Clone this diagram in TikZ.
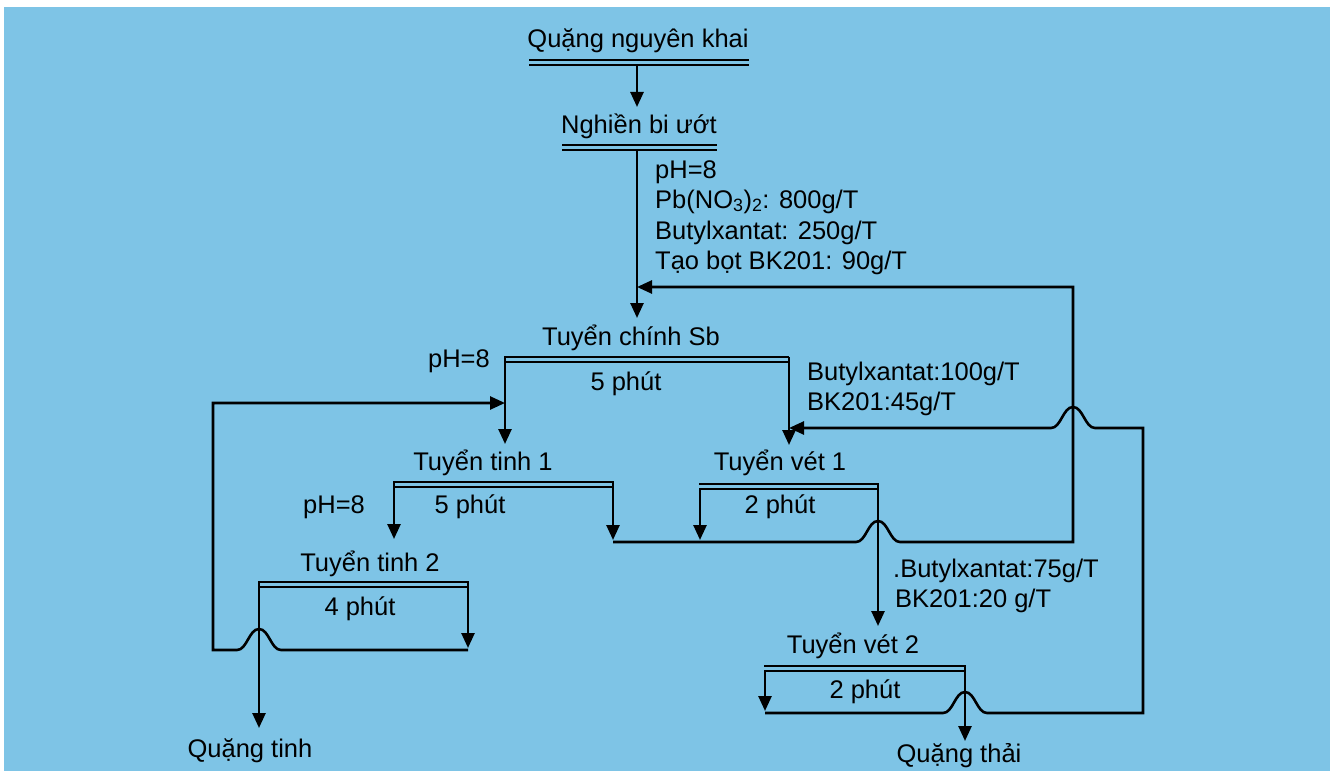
\documentclass[tikz,border=0pt]{standalone}
\usepackage{fontspec}
\setmainfont{Liberation Sans}
\usetikzlibrary{arrows.meta}
\definecolor{bg}{RGB}{126,196,230}
\newcommand{\hmpR}[2]{-- (#1-22,#2) .. controls (#1-12,#2) and (#1-10,#2-21) .. (#1,#2-21) .. controls (#1+10,#2-21) and (#1+12,#2) .. (#1+22,#2)}
\newcommand{\hmpL}[2]{-- (#1+22,#2) .. controls (#1+12,#2) and (#1+10,#2-21) .. (#1,#2-21) .. controls (#1-10,#2-21) and (#1-12,#2) .. (#1-22,#2)}
\begin{document}
\begin{tikzpicture}[x=1pt,y=-1pt,
  line/.style={line width=2.6pt, line join=miter},
  arr/.style={line, -{Triangle[length=15pt,width=13pt]}},
  lbl/.style={inner sep=0pt, font=\fontsize{25.5}{30}\selectfont, anchor=base},
  lblw/.style={lbl, anchor=base west},
  lble/.style={lbl, anchor=base east}]
\useasboundingbox (0,0) rectangle (1330,773);
\fill[white] (0,0) rectangle (1330,773);
\fill[bg] (4,7) rectangle (1330,771);

% ---- texts ----
\node[lbl] (qnk) at (638,48) {Quặng nguyên khai};
\node[lbl] (nbu) at (639,133) {Nghiền bi ướt};
\node[lblw] (r1) at (655,178) {pH=8};
\node[lblw] (r2) at (655,208) {Pb(NO\textsubscript{3})\textsubscript{2}: 800g/T};
\node[lblw] (r3) at (655,239) {Butylxantat: 250g/T};
\node[lblw] (r4) at (655,269) {Tạo bọt BK201: 90g/T};
\node[lbl] (tcs) at (631,345) {Tuyển chính Sb};
\node[lble] (ph1) at (490,367) {pH=8};
\node[lbl] (t1) at (626,390) {5 phút};
\node[lblw] (r5) at (807,380) {Butylxantat:100g/T};
\node[lblw] (r6) at (807,410) {BK201:45g/T};
\node[lbl] (tt1) at (483,470) {Tuyển tinh 1};
\node[lbl] (ph2) at (334,513) {pH=8};
\node[lbl] (t2) at (470,513) {5 phút};
\node[lbl] (tv1) at (780,470) {Tuyển vét 1};
\node[lbl] (t3) at (780,513) {2 phút};
\node[lbl] (tt2) at (370,571) {Tuyển tinh 2};
\node[lbl] (t4) at (360,615) {4 phút};
\node[lbl] (qt) at (250,757) {Quặng tinh};
\node[lblw] (r7) at (893,577) {.Butylxantat:75g/T};
\node[lblw] (r8) at (895,607) {BK201:20 g/T};
\node[lbl] (tv2) at (853,653) {Tuyển vét 2};
\node[lbl] (t5) at (865,698) {2 phút};
\node[lbl] (qth) at (959,762) {Quặng thải};

% ---- double lines (stages) ----
\draw[line] (529,60) -- (749,60); \draw[line] (529,65) -- (749,65);
\draw[line] (562,145) -- (717,145); \draw[line] (562,150) -- (717,150);
\draw[line] (504,357) -- (789,357); \draw[line] (504,362) -- (789,362);
\draw[line] (393,482) -- (614,482); \draw[line] (393,487) -- (614,487);
\draw[line] (699,484) -- (879,484); \draw[line] (699,489) -- (879,489);
\draw[line] (258,582) -- (469,582); \draw[line] (258,587) -- (469,587);
\draw[line] (764,666) -- (966,666); \draw[line] (764,671) -- (966,671);

% ---- coordinates ----
\coordinate (a1) at (637,66);   \coordinate (a2) at (637,107);
\coordinate (b1) at (637,150);  \coordinate (b2) at (637,318);
\coordinate (cL) at (505,357);  \coordinate (cLe) at (505,444);
\coordinate (cR) at (789,357);  \coordinate (cRe) at (789,445);
\coordinate (dL) at (394,482);  \coordinate (dLe) at (394,539);
\coordinate (dR) at (613,482);  \coordinate (dRe) at (613,540);
\coordinate (eL) at (700,489);  \coordinate (eLe) at (700,540);
\coordinate (eR) at (878,484);  \coordinate (eRe) at (878,626);
\coordinate (fL) at (259,582);  \coordinate (fLe) at (259,728);
\coordinate (fR) at (468,582);  \coordinate (fRe) at (468,648);
\coordinate (gL) at (765,671);  \coordinate (gLe) at (765,711);
\coordinate (gR) at (965,666);  \coordinate (gRe) at (965,741);

% ---- flows ----
\draw[arr] (a1) -- (a2);
\draw[arr] (b1) -- (b2);
\draw[arr] (cL) -- (cLe);
\draw[arr] (cR) -- (cRe);
\draw[arr] (dL) -- (dLe);
\draw[arr] (dR) -- (dRe);
\draw[arr] (eL) -- (eLe);
\draw[arr] (eR) -- (eRe);
\draw[arr] (fL) -- (fLe);
\draw[arr] (fR) -- (fRe);
\draw[arr] (gL) -- (gLe);
\draw[arr] (gR) -- (gRe);

% recycle of Tuyen vet 1 tails + Tuyen tinh 1 tails to Tuyen chinh
\draw[arr] (613,542) \hmpR{878}{542} -- (1073,542) -- (1073,287) -- (637,287);
% recycle of Tuyen tinh 2 tails to Tuyen tinh 1
\draw[arr] (468,650) \hmpL{259}{650} -- (213,650) -- (213,403) -- (505,403);
% recycle of Tuyen vet 2 concentrate to Tuyen vet 1
\draw[arr] (765,713) \hmpR{965}{713} -- (1143,713) -- (1143,428) \hmpL{1073}{428} -- (789,428);
\end{tikzpicture}
\end{document}
